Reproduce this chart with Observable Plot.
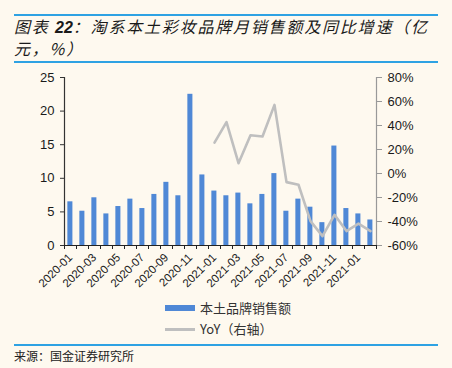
<!DOCTYPE html>
<html>
<head>
<meta charset="utf-8">
<script src="https://cdn.jsdelivr.net/npm/d3@7"></script>
<script src="https://cdn.jsdelivr.net/npm/@observablehq/plot@0.6"></script>
<style>
  html, body { margin: 0; padding: 0; background: #FEF9EF; }
  #wrap { position: relative; width: 452px; height: 368px; background: #FEF9EF; overflow: hidden; font-family: "Liberation Sans", Arial, sans-serif; }
  .rule { position: absolute; left: 14px; width: 424px; height: 2px; background: #2EA2E3; }
  #title { position: absolute; left: 14px; top: 16px; width: 430px; font-family: "Noto Sans CJK SC", sans-serif; font-style: italic; font-size: 16px; line-height: 21px; letter-spacing: 1.8px; color: #1a1a1a; }
  #title b { font-family: "Liberation Sans", Arial, sans-serif; font-weight: bold; letter-spacing: 0; }
  #chart { position: absolute; left: 0; top: 67px; }
  .leg { position: absolute; left: 165px; width: 30px; }
  .legt { position: absolute; left: 200px; font-family: "Noto Sans CJK SC", sans-serif; font-size: 13px; color: #333; line-height: 16px; }
  #source { position: absolute; left: 14px; top: 347px; font-family: "Noto Sans CJK SC", sans-serif; font-size: 12px; color: #222; }
</style>
</head>
<body>
<div id="wrap">
  <div class="rule" style="top:14px"></div>
  <div id="title">图表 <b>22</b>：淘系本土彩妆品牌月销售额及同比增速（亿<br>元，%）</div>
  <div class="rule" style="top:61px"></div>
  <div id="chart"></div>
  <div class="leg" style="top:305px;height:6px;background:#4F88D6"></div>
  <div class="legt" style="top:300px">本土品牌销售额</div>
  <div class="leg" style="top:328px;height:2.5px;background:#BFBFBF"></div>
  <div class="legt" style="top:321px">YoY（右轴）</div>
  <div class="rule" style="top:344px"></div>
  <div id="source">来源：国金证券研究所</div>
</div>
<script>
// Monthly sales (亿元), 2020-01 .. 2022-02
const sales = [6.5, 5.1, 7.1, 4.7, 5.8, 6.9, 5.5, 7.6, 9.4, 7.4, 22.5, 10.5, 8.1,
               7.4, 7.8, 6.2, 7.6, 10.7, 5.1, 6.9, 5.7, 3.4, 14.8, 5.5, 4.7, 3.8];
// YoY (%), starting from the 13th month (2021-01)
const yoyStart = 12;
const yoy = [25.8, 42.8, 8.6, 31.9, 30.8, 57.2, -7.2, -9.4, -39.7, -52.2, -34.4, -48, -41.7, -48];
// X tick labels (every other month, as printed)
const xLabels = ["2020-01", "2020-03", "2020-05", "2020-07", "2020-09", "2020-11",
                 "2021-01", "2021-03", "2021-05", "2021-07", "2021-09", "2021-11", "2021-01"];
const leftTicks = [0, 5, 10, 15, 20, 25];
const rightTicks = [-60, -40, -20, 0, 20, 40, 60, 80];

const yMax = 25, rMin = -60, rMax = 80;
const toLeft = v => (v - rMin) / (rMax - rMin) * yMax;
const fromLeft = y => Math.round(y / yMax * (rMax - rMin) + rMin);

const barData = sales.map((v, i) => ({i, v}));
const lineData = yoy.map((v, k) => ({i: yoyStart + k, v}));
const n = sales.length;

const chart = Plot.plot({
  width: 452,
  height: 240,
  marginLeft: 64,
  marginRight: 76,
  marginTop: 10,
  marginBottom: 62,
  style: {background: "transparent", fontFamily: "'Liberation Sans', Arial, sans-serif", color: "#1a1a1a"},
  x: {type: "linear", domain: [0, n]},
  y: {domain: [0, yMax]},
  marks: [
    Plot.rect(barData, {x1: d => d.i + 0.28, x2: d => d.i + 0.70, y1: 0, y2: "v", fill: "#4F88D6"}),
    Plot.line(lineData, {x: d => d.i + 0.5, y: d => toLeft(d.v), stroke: "#BFBFBF", strokeWidth: 2.6}),
    // left axis
    Plot.ruleX([0], {y1: 0, y2: yMax, stroke: "#333", strokeWidth: 1.2}),
    Plot.axisY({anchor: "left", ticks: leftTicks, tickSize: 4, tickPadding: 6, fontSize: 13, label: null, stroke: "#333"}),
    // right axis
    Plot.ruleX([n], {y1: 0, y2: yMax, stroke: "#999", strokeWidth: 1.2}),
    Plot.axisY({anchor: "right", ticks: rightTicks.map(toLeft), tickFormat: y => fromLeft(y) + "%", tickSize: 5, tickPadding: 6, fontSize: 13, label: null, stroke: "#999"}),
    // x axis
    Plot.ruleY([0], {stroke: "#222", strokeWidth: 1.2}),
    Plot.axisX({ticks: d3.range(0, n + 1), tickFormat: () => "", tickSize: 4, label: null, stroke: "#222"}),
    Plot.axisX({ticks: xLabels.map((_, k) => 2 * k + 0.5), tickFormat: x => xLabels[(x - 0.5) / 2], tickSize: 0, tickPadding: 10, tickRotate: -45, fontSize: 11.5, label: null})
  ]
});
document.getElementById("chart").appendChild(chart);
</script>
</body>
</html>
